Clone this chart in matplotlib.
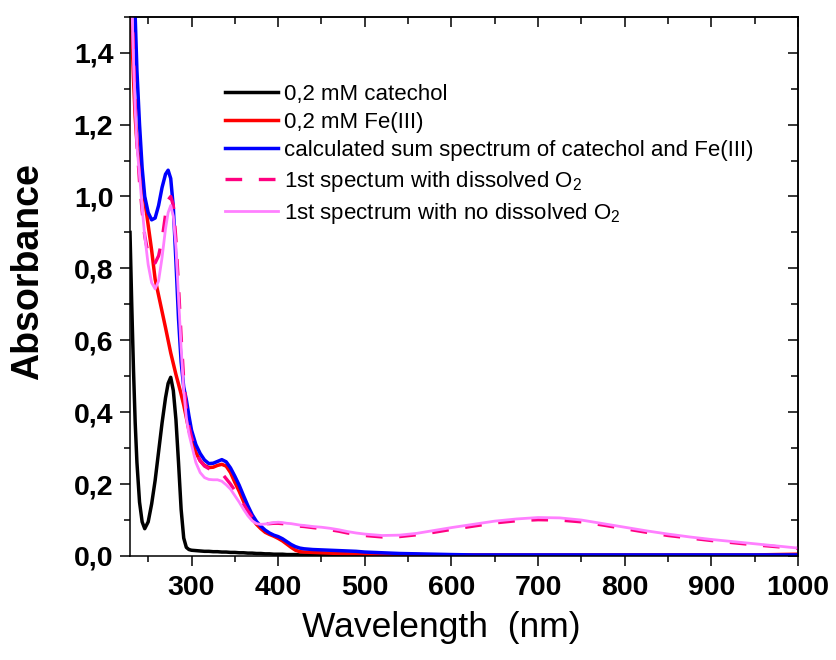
import numpy as np
import matplotlib
matplotlib.use('Agg')
import matplotlib.pyplot as plt
from matplotlib.ticker import MultipleLocator, FuncFormatter

plt.rcParams['font.family'] = ['Liberation Sans', 'DejaVu Sans']
plt.rcParams['mathtext.fontset'] = 'custom'
plt.rcParams['mathtext.rm'] = 'Liberation Sans'
plt.rcParams['mathtext.default'] = 'regular'

# wavelength grid (nm)
wl = [229, 231, 233, 235, 237, 240, 243, 246, 250, 254,
      258, 262, 266, 270, 273, 276, 279, 282, 285, 288,
      291, 294, 297, 300, 305, 310, 315, 320, 325, 330,
      335, 340, 345, 350, 355, 360, 365, 370, 375, 380,
      385, 390, 395, 400, 405, 410, 415, 420, 425, 430,
      440, 450, 460, 470, 480, 490, 500, 520, 540, 560,
      580, 600, 625, 650, 675, 700, 725, 750, 775, 800,
      825, 850, 875, 900, 925, 950, 975, 1000]

catechol = [0.90, 0.70, 0.52, 0.37, 0.26, 0.15, 0.095, 0.076, 0.095, 0.145,
            0.21, 0.29, 0.37, 0.44, 0.48, 0.497, 0.46, 0.38, 0.26, 0.13,
            0.05, 0.024, 0.018, 0.016, 0.015, 0.014, 0.013, 0.013, 0.012, 0.012,
            0.011, 0.011, 0.010, 0.010, 0.009, 0.009, 0.008, 0.008, 0.007, 0.007,
            0.006, 0.006, 0.005, 0.005, 0.005, 0.004, 0.004, 0.004, 0.003, 0.003,
            0.003, 0.002, 0.002, 0.002, 0.001, 0.001, 0.001, 0.0, 0.0, 0.0,
            0.0, 0.0, 0.0, 0.0, 0.0, 0.0, 0.0, 0.0, 0.0, 0.0,
            0.0, 0.0, 0.0, 0.0, 0.0, 0.0, 0.0, 0.0]

fe3 = [1.60, 1.46, 1.33, 1.22, 1.15, 1.09, 1.04, 0.99, 0.92, 0.85,
       0.77, 0.725, 0.68, 0.635, 0.60, 0.565, 0.535, 0.505, 0.478, 0.45,
       0.42, 0.385, 0.35, 0.325, 0.288, 0.265, 0.252, 0.246, 0.247, 0.252,
       0.255, 0.25, 0.232, 0.205, 0.18, 0.152, 0.127, 0.105, 0.088, 0.076,
       0.066, 0.060, 0.055, 0.049, 0.042, 0.033, 0.024, 0.016, 0.012, 0.011,
       0.010, 0.009, 0.008, 0.007, 0.006, 0.006, 0.005, 0.005, 0.004, 0.004,
       0.003, 0.003, 0.003, 0.003, 0.003, 0.003, 0.003, 0.003, 0.003, 0.003,
       0.003, 0.003, 0.003, 0.003, 0.003, 0.003, 0.004, 0.005]

sum_spec = [2.20, 1.95, 1.72, 1.50, 1.35, 1.20, 1.08, 1.00, 0.955, 0.935,
            0.94, 0.975, 1.025, 1.062, 1.073, 1.05, 0.97, 0.82, 0.66, 0.54,
            0.47, 0.435, 0.39, 0.35, 0.31, 0.285, 0.267, 0.257, 0.258, 0.263,
            0.268, 0.262, 0.245, 0.222, 0.197, 0.168, 0.14, 0.115, 0.096, 0.083,
            0.072, 0.064, 0.058, 0.054, 0.048, 0.040, 0.032, 0.026, 0.022, 0.020,
            0.018, 0.017, 0.016, 0.015, 0.014, 0.013, 0.011, 0.009, 0.007, 0.006,
            0.005, 0.004, 0.003, 0.003, 0.003, 0.003, 0.003, 0.003, 0.003, 0.003,
            0.003, 0.003, 0.003, 0.003, 0.003, 0.003, 0.003, 0.003]

with_o2 = [1.80, 1.58, 1.40, 1.26, 1.15, 1.04, 0.96, 0.89, 0.84, 0.818,
           0.815, 0.835, 0.88, 0.95, 0.99, 1.00, 0.975, 0.88, 0.75, 0.61,
           0.49, 0.41, 0.36, 0.33, 0.29, 0.265, 0.25, 0.243, 0.24, 0.236,
           0.23, 0.215, 0.20, 0.182, 0.165, 0.145, 0.125, 0.108, 0.097, 0.092,
           0.090, 0.090, 0.091, 0.091, 0.090, 0.088, 0.087, 0.085, 0.083, 0.082,
           0.079, 0.076, 0.073, 0.069, 0.064, 0.060, 0.057, 0.053, 0.054, 0.059,
           0.066, 0.074, 0.083, 0.092, 0.098, 0.101, 0.100, 0.095, 0.086, 0.076,
           0.066, 0.057, 0.050, 0.043, 0.037, 0.031, 0.026, 0.021]

no_o2 = [1.80, 1.55, 1.38, 1.24, 1.14, 1.06, 0.97, 0.89, 0.81, 0.76,
         0.743, 0.765, 0.83, 0.91, 0.955, 0.975, 0.945, 0.86, 0.72, 0.58,
         0.46, 0.385, 0.34, 0.31, 0.26, 0.232, 0.218, 0.213, 0.212, 0.212,
         0.208, 0.198, 0.186, 0.168, 0.15, 0.13, 0.112, 0.098, 0.090, 0.088,
         0.089, 0.091, 0.093, 0.094, 0.093, 0.091, 0.090, 0.088, 0.086, 0.085,
         0.082, 0.080, 0.077, 0.073, 0.068, 0.064, 0.061, 0.057, 0.058, 0.063,
         0.071, 0.079, 0.088, 0.097, 0.103, 0.107, 0.106, 0.100, 0.090, 0.080,
         0.070, 0.061, 0.053, 0.046, 0.040, 0.034, 0.028, 0.022]

labels = ['0,2 mM catechol',
          '0,2 mM Fe(III)',
          'calculated sum spectrum of catechol and Fe(III)',
          '1st spectum with dissolved O$_2$',
          '1st spectrum with no dissolved O$_2$']

fig = plt.figure(figsize=(8.37, 6.6), dpi=100)
ax = fig.add_axes([130/837, 104/660, 668/837, 539.3/660])

ax.plot(wl, catechol, color='black', lw=2.5, label=labels[0])
ax.plot(wl, fe3, color='#ff0000', lw=2.5, label=labels[1])
ax.plot(wl, sum_spec, color='#0000ff', lw=2.5, label=labels[2])
ax.plot(wl, with_o2, color='#ff0080', lw=2.4, dashes=(5, 5), label=labels[3])
ax.plot(wl, no_o2, color='#ff80ff', lw=2.0, label=labels[4])

ax.set_xlim(229, 1000)
ax.set_ylim(0, 1.5)

ax.xaxis.set_major_locator(MultipleLocator(100))
ax.xaxis.set_minor_locator(MultipleLocator(50))
ax.yaxis.set_major_locator(MultipleLocator(0.2))
ax.yaxis.set_minor_locator(MultipleLocator(0.1))
ax.yaxis.set_major_formatter(FuncFormatter(lambda v, p: f'{v:.1f}'.replace('.', ',')))

ax.tick_params(which='both', direction='out', width=1.1, labelsize=20.5)
ax.tick_params(which='major', length=7)
ax.tick_params(which='minor', length=4)
ax.tick_params(axis='x', pad=7)
ax.tick_params(axis='y', pad=5)
for t in ax.get_xticklabels() + ax.get_yticklabels():
    t.set_fontweight('bold')
for s in ax.spines.values():
    s.set_linewidth(1.1)

# mirrored axes with inward ticks
top = ax.secondary_xaxis('top')
top.xaxis.set_major_locator(MultipleLocator(100))
top.xaxis.set_minor_locator(MultipleLocator(50))
top.tick_params(which='both', direction='in', width=1.1, labeltop=False)
top.tick_params(which='major', length=7)
top.tick_params(which='minor', length=5)
top.spines['top'].set_linewidth(1.1)
right = ax.secondary_yaxis('right')
right.yaxis.set_major_locator(MultipleLocator(0.2))
right.yaxis.set_minor_locator(MultipleLocator(0.1))
right.tick_params(which='both', direction='in', width=1.1, labelright=False)
right.tick_params(which='major', length=7)
right.tick_params(which='minor', length=5)
right.spines['right'].set_linewidth(1.1)

ax.legend(loc='upper left', bbox_to_anchor=(0.142, 0.876), frameon=False,
          fontsize=16, handlelength=2.4, handletextpad=0.27,
          labelspacing=0.33, borderpad=0, borderaxespad=0)

fig.text(28/837, 1 - 272/660, 'Absorbance', rotation=90, ha='center', va='center',
         fontsize=27, fontweight='bold')
fig.text(441/837, 1 - 628/660, 'Wavelength  (nm)', ha='center', va='center',
         fontsize=25.5)

fig.savefig('out.png', dpi=100)
